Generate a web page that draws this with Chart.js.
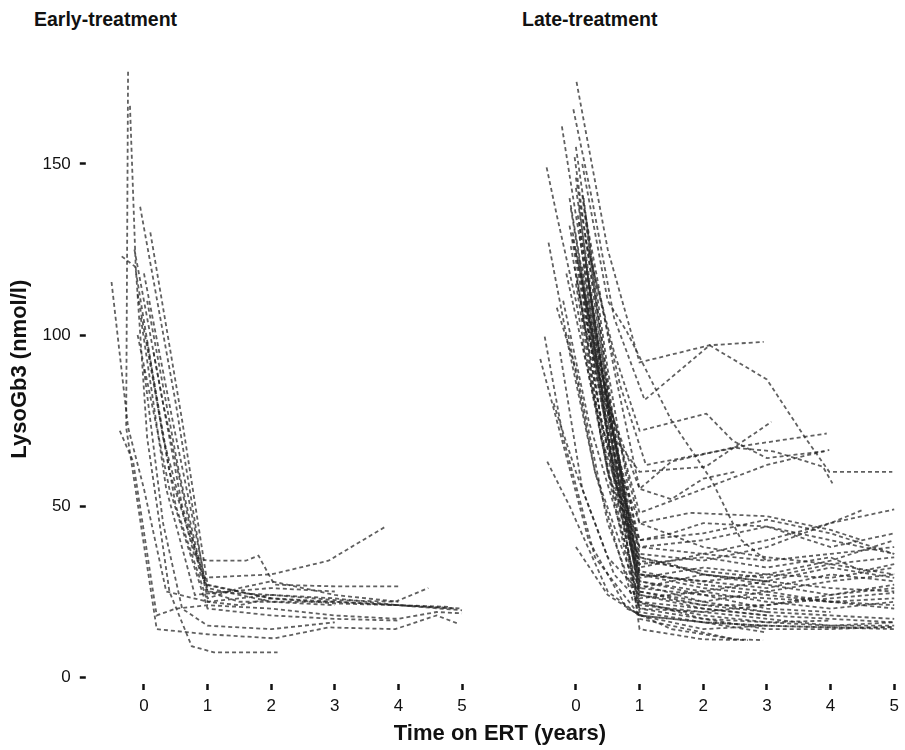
<!DOCTYPE html>
<html>
<head>
<meta charset="utf-8">
<script src="https://cdn.jsdelivr.net/npm/chart.js@4.4.1/dist/chart.umd.min.js"></script>
<style>
  body { margin: 0; background: #fff; width: 905px; height: 750px; position: relative; overflow: hidden;
         font-family: "Liberation Sans", Arial, sans-serif; }
  canvas { position: absolute; top: 0; }
  .lbl { position: absolute; font-weight: bold; color: #111; white-space: nowrap; }
  .ptitle { font-size: 19.5px; top: 8px; }
</style>
</head>
<body>
<div class="lbl ptitle" id="title1" style="left:34px"></div>
<div class="lbl ptitle" id="title2" style="left:522px"></div>
<canvas id="early" width="475" height="750" style="left:0"></canvas>
<canvas id="late" width="425" height="750" style="left:480px"></canvas>
<div class="lbl" id="xtitle" style="left:0;width:1000px;top:720px;text-align:center;font-size:22px"></div>
<script>
let panelTitles = ['Early-treatment', 'Late-treatment'];
let yTitle = 'LysoGb3 (nmol/l)';
let xTitle = 'Time on ERT (years)';
let yTicks = [0, 50, 100, 150];
let xTicks = [0, 1, 2, 3, 4, 5];

// one row per patient: time points (years) and LysoGb3 values
let earlyTimes = [
  [-0.25, -0.28, 0.2, 1, 2.05, 2.9, 3.95, 4.6, 4.95],
  [-0.22, -0.13, 0.05, 0.4, 0.75, 1.1, 2.1],
  [-0.06, 0.5, 0.96, 2, 3, 4, 4.9],
  [-0.51, -0.25, 0, 0.35, 1, 2, 3, 3.95, 4.47],
  [-0.35, -0.14, 0.3, 0.8, 1, 1.6, 1.8, 2.05, 3, 4],
  [-0.38, -0.17, 0.2, 0.5, 1, 2, 3, 4, 4.6, 5],
  [-0.15, 0.3, 0.9, 2, 2.9, 3.8],
  [0, 0.45, 1, 1.5, 2, 3, 4, 5],
  [0.05, 0.55, 1, 1.5, 2, 3, 4],
  [-0.1, 0.4, 1, 2, 3, 4],
  [0.1, 0.6, 1, 2, 3, 4, 4.8],
  [0, 0.3, 0.6, 1, 2, 3],
  [-0.05, 0.35, 0.8, 1.3, 2, 3],
  [0.15, 0.6, 1, 2, 3],
  [-0.1, 0.4, 1, 2, 3, 4, 5],
  [0.05, 0.5, 1, 1.5, 2]
];
let earlyLevels = [
  [177, 73, 14, 12.5, 11.3, 14.5, 14, 18, 15.5],
  [167, 120, 70, 25, 9, 7.2, 7.2],
  [137.5, 80, 27, 23, 22, 21, 20],
  [115.5, 73, 55, 25, 22, 24, 22.5, 22, 26],
  [123, 120, 70, 35, 34, 34, 35.5, 27, 26.5, 26.5],
  [72, 63, 18, 20, 21, 20, 18, 17, 19, 18.6],
  [125, 80, 29, 30, 34, 44],
  [118, 75, 25, 22, 22, 22, 21, 20],
  [110, 60, 23, 26, 28, 24, 22],
  [100, 55, 20, 18, 17, 16.5],
  [130, 75, 27, 23, 21.5, 21, 20.5],
  [90, 45, 20, 15, 14, 16],
  [105, 55, 24, 25, 26, 25],
  [95, 50, 26, 22, 21],
  [112, 60, 25, 24, 23, 21, 19.5],
  [98, 50, 22, 21, 23]
];

let lateTimes = [
  [0.01, 0.5, 1, 2.1, 2.95],
  [-0.04, 0.25, 0.6, 1.08, 2.1, 3, 3.6, 3.98, 4.97],
  [-0.22, 0, 0.4, 1, 2, 3, 4, 5],
  [-0.46, -0.3, 0, 0.5, 1, 2, 3, 4, 5],
  [-0.43, -0.1, 0.3, 0.9, 2, 3, 4, 5],
  [-0.49, -0.2, 0.3, 1, 2, 3],
  [-0.56, -0.3, 0.2, 0.8, 1.5, 2.5],
  [0, 0.5, 1, 2, 3, 4, 5],
  [-0.1, 0.4, 1, 1.5, 2, 3, 4, 5],
  [0.05, 0.5, 1, 2, 3, 4],
  [-0.05, 0.3, 1, 2, 3, 4, 4.5, 5],
  [0, 0.5, 1, 2, 3, 4, 5],
  [0.1, 0.6, 1, 2, 3, 4, 4.5],
  [-0.15, 0.3, 1, 2, 3, 4, 5],
  [0.15, 0.6, 1, 1.5, 2, 2.5],
  [0, 0.4, 1, 2, 3, 4, 5],
  [-0.2, 0.2, 1, 2, 3, 4, 5],
  [0.1, 0.5, 0.8, 1.5, 2.13, 2.41, 2.6, 3],
  [0.15, 0.6, 1, 2.05, 2.47, 3, 3.9],
  [0.05, 0.6, 1, 2.04, 3.07],
  [0.1, 0.5, 1, 1.5, 2.52, 3.94],
  [-0.1, 0.4, 1, 2, 3, 4, 5],
  [0, 0.4, 1, 2, 3, 4],
  [0.05, 0.5, 1, 2, 2.5, 2.94],
  [-0.05, 0.45, 1, 2, 2.7],
  [0.12, 0.6, 1, 2, 3, 4, 5],
  [-0.3, 0, 0.5, 1, 2, 3, 4, 5],
  [0, 0.5, 1, 2, 3, 4, 5],
  [0.08, 0.6, 1, 2, 3, 4, 5],
  [-0.12, 0.3, 1, 2, 3, 4, 5],
  [0.2, 0.7, 1, 2, 3, 4, 5],
  [-0.02, 0.4, 1, 2, 3, 4, 5],
  [0.1, 0.5, 1, 1.5, 2, 3],
  [-0.25, 0.1, 0.6, 1, 2, 3],
  [0.03, 0.5, 1, 2, 3, 4, 5],
  [0.15, 0.6, 1, 1.8, 3, 4, 4.5],
  [-0.45, -0.1, 0.5, 1, 2, 3, 4, 5],
  [0, 0.5, 1, 2, 3],
  [-0.35, 0, 0.5, 1, 2, 3],
  [0.2, 0.7, 1.1, 2.5, 3.1, 3.88, 4.03],
  [-0.08, 0.3, 1, 2, 3, 3.98],
  [0.05, 0.45, 1, 2, 3, 4, 5],
  [-0.08, 0.35, 1, 2, 3, 4, 5],
  [0.1, 0.55, 1, 2, 3, 4, 5],
  [0.02, 0.4, 1, 2, 3, 4, 5],
  [0.18, 0.6, 1, 2, 3, 4, 5],
  [-0.02, 0.4, 1, 2, 3, 4, 5],
  [0.06, 0.5, 1, 2, 3, 4, 5],
  [0.12, 0.6, 1, 2, 3, 4, 5]
];
let lateLevels = [
  [174, 125, 92, 97, 98],
  [166, 140, 105, 81, 97, 87, 70, 60, 60],
  [161, 135, 90, 45, 38, 35, 33, 30],
  [149, 135, 110, 60, 30, 26, 24, 22, 20],
  [127, 95, 60, 22, 18, 16, 15, 15],
  [99.5, 70, 35, 18, 14, 15],
  [93, 75, 40, 20, 14, 11],
  [143, 80, 35, 30, 28, 26, 25],
  [140, 85, 40, 42, 45, 44, 40, 36],
  [138, 70, 28, 24, 20, 19],
  [130, 90, 33, 35, 32, 35, 31, 33],
  [125, 75, 24, 20, 18, 17, 16],
  [120, 70, 32, 36, 40, 45, 48.8],
  [118, 80, 38, 40, 44, 38, 42],
  [135, 90, 55, 52, 58, 60],
  [115, 70, 20, 17, 14, 14, 14.7],
  [110, 75, 25, 22, 25, 28, 30],
  [150, 110, 101, 75, 57.6, 47, 40, 34],
  [128, 95, 72, 77, 69, 64, 66],
  [112, 70, 60, 61.5, 74.6],
  [105, 80, 55, 63, 67.3, 71.2],
  [132, 80, 30, 28, 30, 34, 40],
  [146, 100, 22, 17, 16, 16.5],
  [122, 60, 17, 13, 11, 10.8],
  [128, 85, 14, 11, 10.8],
  [140, 70, 26, 30, 27, 24, 27],
  [108, 90, 45, 20, 19, 21, 23, 24.6],
  [155, 90, 36, 34, 38, 45, 49],
  [118, 60, 29, 32, 30, 29, 32],
  [100, 60, 23, 25, 22, 20, 22],
  [116, 55, 40, 42, 46, 42, 36],
  [120, 75, 27, 22, 19, 18, 17],
  [98, 60, 35, 33, 30, 28],
  [95, 55, 30, 22, 20, 18],
  [135, 80, 30, 28, 26, 30, 28],
  [122, 65, 45, 48, 47, 43, 40],
  [63, 50, 25, 18, 16, 15, 14.5, 14],
  [38, 24, 18, 16, 13],
  [80, 60, 35, 25, 21, 19],
  [125, 85, 62, 67, 66, 61.5, 56.6],
  [137, 95, 48, 55, 62, 66.4],
  [133, 85, 31, 27, 25, 22, 23],
  [126, 80, 21, 19, 17, 15, 16],
  [141, 75, 24, 21, 21, 24, 26],
  [117, 70, 34, 31, 29, 33, 35],
  [110, 60, 26, 24, 23, 22, 21],
  [152, 95, 28, 25, 28, 32, 29],
  [129, 70, 19, 16, 15, 14.5, 14.5],
  [113, 58, 38, 36, 34, 36, 38]
];

document.getElementById('title1').textContent = panelTitles[0];
document.getElementById('title2').textContent = panelTitles[1];
document.getElementById('xtitle').textContent = xTitle;

Chart.defaults.font.family = '"Liberation Sans", Arial, sans-serif';
Chart.defaults.color = '#111';

function makePanel(id, times, levels, showY, padLeft, padRight) {
  let datasets = times.map((ts, i) => ({
    data: ts.map((t, j) => ({ x: t, y: levels[i][j] })),
    borderColor: 'rgba(35,35,35,0.72)',
    borderWidth: 1.8,
    borderDash: [4, 3],
    pointRadius: 0,
    tension: 0,
    fill: false
  }));

  return new Chart(document.getElementById(id).getContext('2d'), {
    type: 'line',
    data: { datasets: datasets },
    options: {
      responsive: false,
      animation: false,
      devicePixelRatio: 1,
      layout: { padding: { left: padLeft, right: padRight, top: 61.4, bottom: 0 } },
      plugins: { legend: { display: false }, tooltip: { enabled: false } },
      scales: {
        x: {
          type: 'linear', min: -0.6, max: 5.1,
          afterBuildTicks: s => { s.ticks = xTicks.map(v => ({ value: v })); },
          afterFit: s => { s.height = 73; },
          border: { display: false },
          grid: { drawOnChartArea: false, tickLength: 13, tickWidth: 2.5, tickColor: '#111',
                  tickBorderDash: [6, 7], tickBorderDashOffset: 6 },
          ticks: { padding: 6, font: { size: 17 }, maxRotation: 0 }
        },
        y: {
          display: showY, min: 0, max: 180,
          afterBuildTicks: s => { s.ticks = yTicks.map(v => ({ value: v })); },
          afterFit: s => { s.width = showY ? 105.8 : 0; },
          border: { display: false },
          title: { display: true, text: yTitle, font: { size: 22, weight: 'bold' }, padding: { top: 7 } },
          grid: { drawOnChartArea: false, tickLength: 26, tickWidth: 2.5, tickColor: '#111',
                  tickBorderDash: [6, 40] },
          ticks: { padding: 9, font: { size: 17 } }
        }
      }
    }
  });
}

makePanel('early', earlyTimes, earlyLevels, true, 0, 6.6);
makePanel('late', lateTimes, lateLevels, false, 57.7, 3.6);
</script>
</body>
</html>
